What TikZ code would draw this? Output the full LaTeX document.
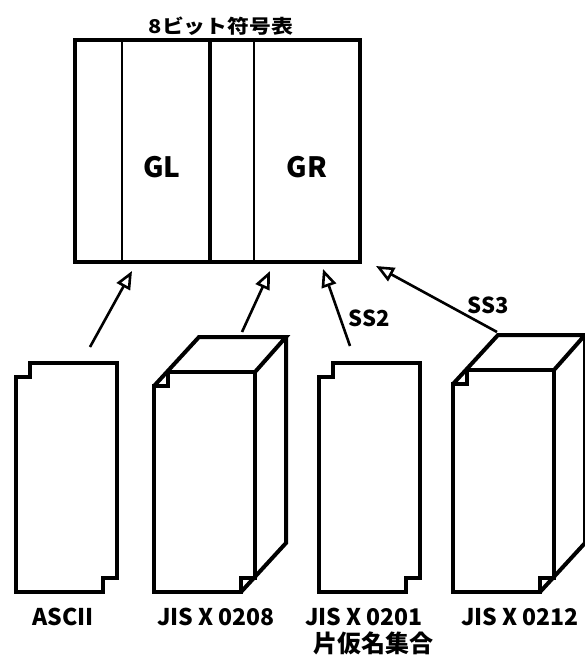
\documentclass[tikz,border=0pt]{standalone}
\usepackage{fontspec}
\setmainfont{Noto Sans CJK JP}
\usetikzlibrary{arrows.meta}

% notched code card, top-left corner at the origin, #1 = height
\newcommand{\codecard}[1]{%
	\draw[frame] (14,0) -- (101,0) -- (101,#1-14) -- (87,#1-14) -- (87,#1) -- (0,#1) -- (0,14) -- (14,14) -- cycle;}
% the same card with depth (a stack of cards)
\newcommand{\codeblock}[1]{%
	\codecard{#1}
	\draw[frame] (0,14) -- (45,-35) -- (132,-35) -- (101,0);
	\draw[frame] (132,-35) -- (132,#1-49) -- (87,#1);}

\begin{document}
\begin{tikzpicture}[x=1pt, y=-1pt,
	frame/.style={line width=4pt, line join=miter},
	cell/.style={line width=2.6pt},
	feed/.style={line width=2.6pt, -{Triangle[open, length=18pt, width=15pt, line width=2.6pt]}},
	lab/.style={font=\bfseries\fontsize{23}{24}\selectfont, inner sep=0pt}]
	\useasboundingbox (0,0) rectangle (584,656);

	% 8-bit code table
	\draw[frame] (75,40) rectangle (360,262);
	\draw[cell] (122,40) -- (122,262);
	\draw[frame] (210,40) -- (210,262);
	\draw[cell] (254,40) -- (254,262);
	\node[lab, font=\bfseries\fontsize{19}{20}\selectfont, xscale=1.15] (title) at (221,26) {8ビット符号表};
	\node[lab, font=\bfseries\fontsize{28}{28}\selectfont] (gl) at (162,167) {GL};
	\node[lab, font=\bfseries\fontsize{28}{28}\selectfont] (gr) at (307,167) {GR};

	% character sets
	\begin{scope}[shift={(16,363)}]
		\codecard{229}
	\end{scope}
	\begin{scope}[shift={(154,372)}]
		\codeblock{220}
	\end{scope}
	\begin{scope}[shift={(319,363)}]
		\codecard{229}
	\end{scope}
	\begin{scope}[shift={(453,370)}]
		\codeblock{222}
	\end{scope}

	\node[lab] (ascii) at (63,617) {ASCII};
	\node[lab] (kanji) at (216,617) {JIS X 0208};
	\node[lab] (kana) at (364,617) {JIS X 0201};
	\node[lab, font=\bfseries\fontsize{24}{24}\selectfont] (kana jp) at (373,643) {片仮名集合};
	\node[lab] (hojo) at (520,617) {JIS X 0212};

	% invocation
	\coordinate (ascii out) at (90,347);
	\coordinate (gl in) at (132,271);
	\coordinate (kanji out) at (242,332);
	\coordinate (gr in) at (270,271);
	\coordinate (kana out) at (350,346);
	\coordinate (ss2 in) at (323,269);
	\coordinate (hojo out) at (497,332);
	\coordinate (ss3 in) at (376,266);
	\draw[feed] (ascii out) -- (gl in);
	\draw[feed] (kanji out) -- (gr in);
	\draw[feed] (kana out) -- (ss2 in);
	\draw[feed] (hojo out) -- (ss3 in);
	\node[lab, font=\bfseries\fontsize{22}{22}\selectfont] (ss2) at (369,318) {SS2};
	\node[lab, font=\bfseries\fontsize{22}{22}\selectfont] (ss3) at (488,305) {SS3};
\end{tikzpicture}
\end{document}
